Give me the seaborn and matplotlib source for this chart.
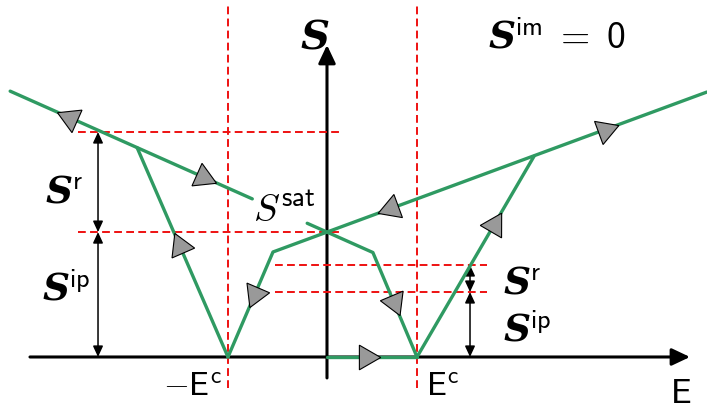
import numpy as np
import pandas as pd
import matplotlib
matplotlib.use("Agg")
import matplotlib.pyplot as plt
from matplotlib.patches import ArrowStyle
import seaborn as sns

# ---- field values (E in units of the positive coercive field) ----
e_coercive_neg = -1.10
e_coercive_pos = 1.00

# ---- strain levels marked by the dashed guides ----
s_left_top = 2.50
s_crossing = 1.388
s_right_top = 1.022
s_right_mid = 0.722
s_zero = 0.0

# ---- green branches of the switching loop ----
line_a_upper_x = [-3.52, -2.11, -0.83]
line_a_upper_y = [2.954, 2.327, 1.757]
line_a_lower_x = [-0.22, 0.51, 1.00]
line_a_lower_y = [1.486, 1.161, 0.0]
left_branch_x = [-2.11, -1.10]
left_branch_y = [2.327, 0.0]
line_b_x = [-1.10, -0.60, 4.22]
line_b_y = [0.0, 1.167, 2.944]
right_branch_x = [1.00, 2.30]
right_branch_y = [0.0, 2.23]
zero_field_x = [0.0, 1.00]
zero_field_y = [0.0, 0.0]

# ---- direction markers: branch, field position, sense of travel along E ----
arrow_branch = ["a_upper", "a_upper", "left", "b", "b", "a_lower", "zero", "right", "b"]
arrow_x = [-2.856, -1.378, -1.633, -0.80, 0.711, 0.744, 0.433, 1.856, 3.089]
arrow_dir = [-1, 1, -1, -1, -1, 1, 1, 1, 1]

branches = {
    "a_upper": (line_a_upper_x, line_a_upper_y),
    "a_lower": (line_a_lower_x, line_a_lower_y),
    "left": (left_branch_x, left_branch_y),
    "b": (line_b_x, line_b_y),
    "right": (right_branch_x, right_branch_y),
    "zero": (zero_field_x, zero_field_y),
}

rows = []
for name, (xs, ys) in branches.items():
    for x, y in zip(xs, ys):
        rows.append({"branch": name, "E": x, "S": y})
loop = pd.DataFrame(rows)

sns.set_theme(style="white")
plt.rcParams["mathtext.fontset"] = "custom"
plt.rcParams["mathtext.bf"] = "DejaVu Serif:italic:bold"
plt.rcParams["mathtext.rm"] = "cmss10"
plt.rcParams["mathtext.sf"] = "cmss10"
plt.rcParams["mathtext.it"] = "DejaVu Serif:italic"

fig = plt.figure(figsize=(7.07, 4.09), dpi=100)
ax = fig.add_axes([0, 0, 1, 1])
ax.set_xlim(-3.633, 4.222)
ax.set_ylim(-0.578, 3.967)
ax.axis("off")

green = "#2f9a62"
red = "#ee1111"

# coordinate axes
axis_style = ArrowStyle("-|>", head_length=11, head_width=5.2)
ax.annotate("", xy=(4.033, 0), xytext=(-3.30, 0),
            arrowprops=dict(arrowstyle=axis_style, mutation_scale=1, lw=2.2,
                            color="black", shrinkA=0, shrinkB=0), zorder=1)
ax.annotate("", xy=(0, 3.467), xytext=(0, -0.233),
            arrowprops=dict(arrowstyle=axis_style, mutation_scale=1, lw=2.2,
                            color="black", shrinkA=0, shrinkB=0), zorder=1)

# dashed guides
dash = dict(color=red, lw=1.4, linestyle=(0, (4, 2.2)), zorder=2)
for e in (e_coercive_neg, e_coercive_pos):
    ax.plot([e, e], [-0.344, 3.911], **dash)
for s in (s_left_top, s_crossing):
    ax.plot([-2.767, 0.144], [s, s], **dash)
for s in (s_right_top, s_right_mid):
    ax.plot([-0.578, 1.778], [s, s], **dash)

# loop branches
sns.lineplot(data=loop, x="E", y="S", units="branch", estimator=None, sort=False,
             color=green, lw=2.4, ax=ax, zorder=3, legend=False)
ax.set_xlabel("")
ax.set_ylabel("")

# direction markers aligned with the local slope
fig.canvas.draw()
for name, xa, sense in zip(arrow_branch, arrow_x, arrow_dir):
    xs, ys = branches[name]
    xs = np.asarray(xs); ys = np.asarray(ys)
    ya = np.interp(xa, xs, ys)
    k = min(max(np.searchsorted(xs, xa) - 1, 0), len(xs) - 2)
    dx = (xs[k + 1] - xs[k]) * sense
    dy = (ys[k + 1] - ys[k]) * sense
    p0 = ax.transData.transform((xa, ya))
    p1 = ax.transData.transform((xa + dx * 0.01, ya + dy * 0.01))
    ang = np.degrees(np.arctan2(p1[1] - p0[1], p1[0] - p0[0]))
    ax.plot([xa], [ya], marker=(3, 0, ang - 90), ms=20.5, mfc="#999999",
            mec="black", mew=0.8, ls="none", zorder=4)

# span indicators
span_style = ArrowStyle("<|-|>", head_length=6.5, head_width=3.0)
def span(x, y0, y1):
    ax.annotate("", xy=(x, y1), xytext=(x, y0),
                arrowprops=dict(arrowstyle=span_style, mutation_scale=1, lw=1.1,
                                color="black", shrinkA=0, shrinkB=0), zorder=2)

span(-2.544, s_crossing, s_left_top)
span(-2.544, s_zero, s_crossing)
span(1.589, s_right_mid, s_right_top)
span(1.589, s_zero, s_right_mid)

# labels
bold_kw = dict(math_fontfamily="custom", va="baseline", ha="left", color="black")
ax.text(-0.133, 3.433, r"$\mathbf{S}$", fontsize=29, **{**bold_kw, "ha": "center"})
ax.text(1.789, 3.433, r"$\mathbf{S}^{\mathsf{im}}\;=\;0$", fontsize=27, **bold_kw)
ax.text(-3.133, 1.722, r"$\mathbf{S}^{\mathsf{r}}$", fontsize=27, **bold_kw)
ax.text(-3.167, 0.633, r"$\mathbf{S}^{\mathsf{ip}}$", fontsize=27, **bold_kw)
ax.text(1.956, 0.711, r"$\mathbf{S}^{\mathsf{r}}$", fontsize=27, **bold_kw)
ax.text(1.956, 0.178, r"$\mathbf{S}^{\mathsf{ip}}$", fontsize=27, **bold_kw)

cm_kw = dict(math_fontfamily="cm", va="baseline", ha="left", color="black")
ax.text(-0.822, 1.50, r"$S^{\mathsf{sat}}$", fontsize=28, **cm_kw)
ax.text(-1.822, -0.444, r"$-\mathsf{E}^{\mathsf{c}}$", fontsize=24, **cm_kw)
ax.text(1.10, -0.444, r"$\mathsf{E}^{\mathsf{c}}$", fontsize=24, **cm_kw)
ax.text(3.811, -0.511, r"$\mathsf{E}$", fontsize=25, **cm_kw)

fig.savefig("out.png", dpi=100)
